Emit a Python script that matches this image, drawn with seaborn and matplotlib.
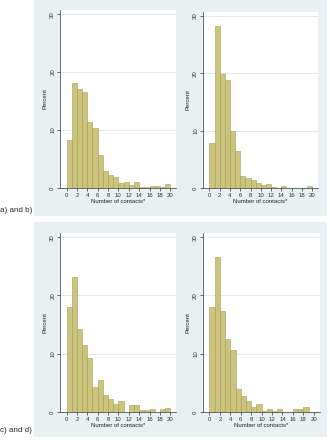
import pandas as pd
import matplotlib
matplotlib.use("Agg")
import matplotlib.pyplot as plt
import seaborn as sns
from matplotlib.patches import Rectangle

# percent of respondents per contact bin (bins of width 1, 0..20)
bin_left = list(range(20))
pct_a = [8.2, 18.1, 17.0, 16.6, 11.3, 10.3, 5.7, 3.0, 2.2, 1.8,
         0.9, 1.0, 0.5, 1.0, 0.1, 0.1, 0.3, 0.3, 0.1, 0.6]
pct_b = [7.9, 28.3, 19.9, 18.8, 9.9, 6.5, 2.0, 1.7, 1.3, 0.8,
         0.5, 0.75, 0.1, 0.0, 0.4, 0.0, 0.0, 0.0, 0.0, 0.4]
pct_c = [18.0, 23.1, 14.3, 11.5, 9.3, 4.3, 5.4, 2.9, 2.2, 1.3,
         1.8, 0.0, 1.1, 1.1, 0.3, 0.4, 0.5, 0.0, 0.45, 0.7]
pct_d = [18.0, 26.6, 17.3, 12.5, 10.6, 3.9, 2.7, 1.9, 0.75, 1.3,
         0.2, 0.45, 0.2, 0.45, 0.0, 0.0, 0.45, 0.45, 0.8, 0.0]
panel_labels = ["a) and b)", "c) and d)"]
x_ticks = list(range(0, 21, 2))
y_ticks = [0, 10, 20, 30]

sns.set_style("white")
plt.rcParams['font.family'] = ['Liberation Sans', 'DejaVu Sans']

bg = "#E8F0F2"
bar_fill = "#CDC47C"
bar_edge = "#A39C5E"

fig = plt.figure(figsize=(3.3, 4.4), dpi=100)
fig.patch.set_facecolor("white")

# light graph regions behind each pair
fig.patches.append(Rectangle((0.103, 0.509), 0.888, 0.491, transform=fig.transFigure,
                             facecolor=bg, edgecolor="none", zorder=-10))
fig.patches.append(Rectangle((0.103, 0.007), 0.888, 0.488, transform=fig.transFigure,
                             facecolor=bg, edgecolor="none", zorder=-10))

positions = [
    (0.182, 0.573, 0.352, 0.404),
    (0.615, 0.573, 0.349, 0.400),
    (0.182, 0.064, 0.352, 0.406),
    (0.615, 0.064, 0.354, 0.406),
]
series = [pct_a, pct_b, pct_c, pct_d]
edges = list(range(21))

for pos, vals in zip(positions, series):
    df = pd.DataFrame({"contacts": [b + 0.5 for b in bin_left], "pct": vals})
    ax = fig.add_axes(pos)
    ax.set_facecolor("white")
    ax.yaxis.grid(True, color="#DCE6EA", linewidth=0.6)
    ax.set_axisbelow(True)
    sns.histplot(data=df, x="contacts", weights="pct", bins=edges, ax=ax,
                 color=bar_fill, edgecolor=bar_edge, linewidth=0.4, alpha=1)
    ax.set_xlim(-1.25, 21.15)
    ax.set_ylim(0, 30.7)
    ax.set_xticks(x_ticks)
    ax.set_yticks(y_ticks)
    ax.set_yticklabels([str(t) for t in y_ticks], rotation=90, va="center")
    ax.tick_params(axis="both", labelsize=4.3, length=2, width=0.5,
                   pad=1.5, colors="#333333", direction="out")
    ax.tick_params(left=True, bottom=True)
    for s in ["top", "right"]:
        ax.spines[s].set_visible(False)
    for s in ["left", "bottom"]:
        ax.spines[s].set_linewidth(0.5)
        ax.spines[s].set_color("#333333")
    ax.set_ylabel("Percent", fontsize=4.3, labelpad=2, color="#222222")
    ax.set_xlabel("Number of contacts*", fontsize=4.3, labelpad=1, color="#222222")

fig.text(0.0, 1 - 210 / 440, panel_labels[0], fontsize=5.8, va="center", ha="left")
fig.text(0.0, 1 - 430 / 440, panel_labels[1], fontsize=5.8, va="center", ha="left")

fig.savefig("out.png", dpi=100, facecolor="white")
